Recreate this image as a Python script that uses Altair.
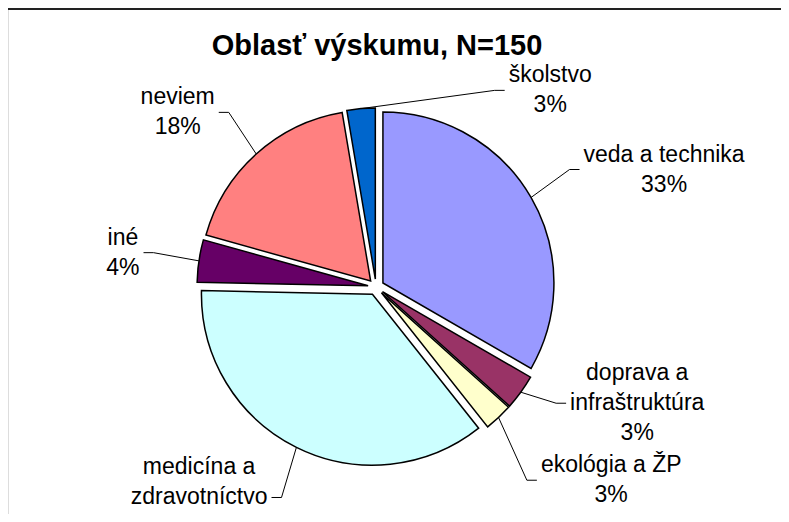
import math
import textwrap
import altair as alt
import pandas as pd

# ---------------- data ----------------
categories = ["veda a technika", "doprava a infraštruktúra", "ekológia a ŽP",
              "medicína a zdravotníctvo", "iné", "neviem", "školstvo"]
counts = [50, 5, 4, 54, 6, 27, 4]
colors = ["#9999FF", "#993366", "#FFFFCC", "#CCFFFF", "#660066", "#FF8080", "#0066CC"]
title_text = "Oblasť výskumu, N=150"

# ---------------- layout ----------------
W, H = 773, 506          # plot size (page minus 8px margins)
CX, CY = 368, 279        # pie centre
R = 171                  # pie radius
EXPLODE = 8              # slice explosion distance
LEADER_R = 235           # radius where leader lines end
FONT = "Liberation Sans"
FS = 23
LH = 30
TITLE_FS = 29
TITLE_DX = CX + 1 - W / 2
TITLE_BASE = 45


def text_w(s):
    w = 0.0
    for ch in s:
        if ch in "ijlíĺľ":
            w += 0.222
        elif ch in "ftť ":
            w += 0.278
        elif ch == "r":
            w += 0.333
        elif ch == "m":
            w += 0.833
        elif ch == "%":
            w += 0.889
        elif ch in "kvsšc":
            w += 0.5
        elif ch.isupper():
            w += 0.64
        else:
            w += 0.556
    return w * FS


title_w = sum(0.6 for _ in title_text) * TITLE_FS
title_box = (CX + 1 - title_w / 2, CX + 1 + title_w / 2, TITLE_BASE + 7)

total = sum(counts)
rows = []
cum = 0
for i, (c, v) in enumerate(zip(categories, counts)):
    a0 = cum / total * 2 * math.pi
    cum += v
    a1 = cum / total * 2 * math.pi
    mid = (a0 + a1) / 2
    pct = round(v / total * 100)
    lines = textwrap.wrap(c, 15) + [f"{pct}%"]
    rows.append(dict(cat=c, value=v, idx=i, mid=mid, pct=pct, lines=lines))


def place(theta, lines):
    s = 1 if math.sin(theta) >= 0 else -1
    ex = CX + LEADER_R * math.sin(theta)
    ey = CY - LEADER_R * math.cos(theta)
    w = max(text_w(l) for l in lines)
    h = len(lines) * LH
    lx = ex + s * (4 + w / 2)
    return s, ex, ey, lx, w, h


# initial placement, rotating clockwise away from the title
for r in rows:
    theta = r["mid"]
    for _ in range(360):
        s, ex, ey, lx, w, h = place(theta, r["lines"])
        x_hit = not (lx + w / 2 < title_box[0] or lx - w / 2 > title_box[1])
        if x_hit and ey - h / 2 < title_box[2]:
            theta += math.radians(1)
            continue
        break
    r.update(side=s, ex=ex, ey=ey, lx=lx, w=w, h=h)

# relax vertical overlaps on each side
for side in (1, -1):
    grp = sorted([r for r in rows if r["side"] == side], key=lambda r: r["ey"])
    for _ in range(100):
        moved = False
        for a, b in zip(grp, grp[1:]):
            need = (a["h"] + b["h"]) / 2 + 2
            gap = b["ey"] - a["ey"]
            if gap < need:
                d = (need - gap) / 2
                a["ey"] -= d
                b["ey"] += d
                moved = True
        if not moved:
            break

slice_rows, line_rows, label_rows = [], [], []
for r in rows:
    m = r["mid"]
    sx = CX + EXPLODE * math.sin(m)
    sy = CY - EXPLODE * math.cos(m)
    slice_rows.append(dict(cat=r["cat"], value=r["value"], idx=r["idx"], cx=sx, cy=sy))
    p0 = (sx + R * math.sin(m), sy - R * math.cos(m))
    p1 = (r["ex"] - r["side"] * 10, r["ey"])
    p2 = (r["ex"], r["ey"])
    for k, (x, y) in enumerate([p0, p1, p2]):
        line_rows.append(dict(cat=r["cat"], k=k, x=x, y=y))
    # Vega puts the first line at y: shift so the block is centred on the leader end
    first_y = r["ey"] - (len(r["lines"]) - 1) * LH / 2
    label_rows.append(dict(cat=r["cat"], lx=r["lx"], ly=first_y, label="\n".join(r["lines"])))

slices = pd.DataFrame(slice_rows)
leaders = pd.DataFrame(line_rows)
labels = pd.DataFrame(label_rows)

arcs = alt.Chart(slices).mark_arc(radius=R, stroke="black", strokeWidth=1.5).encode(
    theta=alt.Theta("value:Q", stack=True),
    order=alt.Order("idx:Q"),
    color=alt.Color("cat:N", scale=alt.Scale(domain=categories, range=colors), legend=None),
    x=alt.X("cx:Q", scale=None),
    y=alt.Y("cy:Q", scale=None),
)

lead = alt.Chart(leaders).mark_line(color="black", strokeWidth=1).encode(
    x=alt.X("x:Q", scale=None),
    y=alt.Y("y:Q", scale=None),
    detail="cat:N",
    order="k:Q",
)

text = alt.Chart(labels).mark_text(
    font=FONT, fontSize=FS, lineHeight=LH, align="center", baseline="middle",
    color="black", lineBreak="\n"
).encode(
    x=alt.X("lx:Q", scale=None),
    y=alt.Y("ly:Q", scale=None),
    text="label:N",
)

border = alt.Chart(slices).mark_rule(color="#222222", strokeWidth=2).encode(
    x=alt.value(0), x2=alt.value(W), y=alt.value(1)
)

chart = alt.layer(border, arcs, lead, text).properties(
    width=W, height=H, padding=0, autosize="none",
    title=alt.TitleParams(
        title_text, font=FONT, fontSize=TITLE_FS, fontWeight="bold", color="black",
        anchor="middle", frame="group", orient="top", offset=-(TITLE_BASE + 31),
        baseline="alphabetic", dx=TITLE_DX,
    ),
).configure_view(stroke=None).configure(background="white")

chart.save("out.html", embed_options={"renderer": "svg", "actions": False})
